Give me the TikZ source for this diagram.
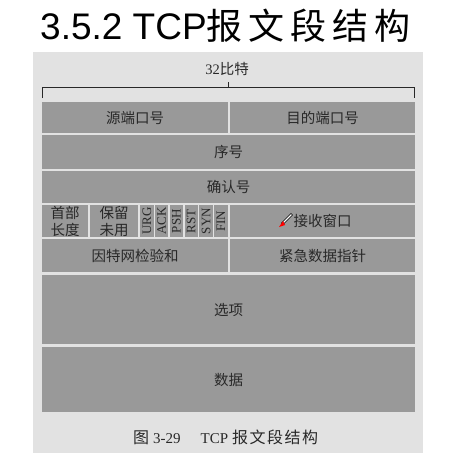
\documentclass[tikz,border=0pt]{standalone}
\usepackage{fontspec}
\setmainfont{Liberation Serif}
\newfontfamily\cjk{Noto Sans CJK SC}
\newfontfamily\titlefont{Liberation Sans}
\usetikzlibrary{positioning}
\definecolor{scanbg}{RGB}{226,226,226}
\definecolor{fieldgray}{RGB}{153,153,153}
\definecolor{inkgray}{RGB}{40,40,40}
\tikzset{
    field/.style={
        fill=fieldgray,
        inner sep=0pt,
        anchor=north west,
        text=inkgray,
        align=center,
        font=\cjk\fontsize{14.5}{17}\selectfont
    },
    % flag cells in the fourth row
    flagcell/.style={
        field,
        font=\fontsize{13}{13}\selectfont
    },
    bracket/.style={
        line width=0.8pt,
        inkgray
    }
}
\newcommand{\cgap}{\hspace{6pt}}

\begin{document}
\begin{tikzpicture}[x=1pt, y=-1pt]
	\useasboundingbox (0,0) rectangle (461,453);
	\fill[white] (0,0) rectangle (461,453);
	\fill[scanbg] (33,52) rectangle (423,453);

	\node [anchor=base west, inner sep=0pt] (title) at (40,39)
		{\titlefont\fontsize{37}{37}\selectfont 3.5.2 TCP{\cjk\fontsize{36}{36}\selectfont 报\cgap 文\cgap 段\cgap 结\cgap 构}};

	% 32 bit bracket
	\coordinate (bl) at (42,98);
	\coordinate (br) at (414,98);
	\coordinate (bm) at (228,82);
	\draw[bracket] (bl) -- ++(0,-11) -| (br);
	\draw[bracket] (bm) -- ++(0,5);
	\node [text=inkgray, font=\fontsize{14.5}{14.5}\selectfont] (bits) at (227,69) {32{\cjk 比特}};

	\node [field, minimum width=186, minimum height=31] (srcport) at (42,102) {源端口号};
	\node [field, minimum width=185, minimum height=31] (dstport) at (230,102) {目的端口号};

	\node [field, minimum width=373, minimum height=34] (seqno) at (42,135) {序号};
	\node [field, minimum width=373, minimum height=32] (ackno) at (42,171) {确认号};

	\node [field, minimum width=46, minimum height=32] (hdrlen) at (42,205) {首部\\长度};
	\node [field, minimum width=48, minimum height=32] (unused) at (90,205) {保留\\未用};
	\foreach \f [count=\i from 0] in {URG,ACK,PSH,RST,SYN,FIN}
		\node [flagcell, minimum width=13.3, minimum height=32] (\f) at (140+\i*14.8,205) {\rotatebox{90}{\f}};
	\node [field, minimum width=185, minimum height=32] (rwnd) at (230,205) {接收窗口};

	\node [field, minimum width=186, minimum height=33] (checksum) at (42,239) {因特网检验和};
	\node [field, minimum width=185, minimum height=33] (urgptr) at (230,239) {紧急数据指针};

	\node [field, minimum width=373, minimum height=69] (options) at (42,275) {选项};
	\node [field, minimum width=373, minimum height=65] (payload) at (42,347) {数据};

	% cursor
	\draw[line width=2.6pt, black] (282,224) -- (292,214);
	\draw[line width=1.4pt, white] (283,223) -- (291.5,214.5);
	\fill[red] (279,227) -- (283,221) -- (285,225) -- cycle;

	\node [anchor=base west, inner sep=0pt, text=inkgray, font=\fontsize{15}{15}\selectfont] (caption) at (133,443)
		{{\cjk\fontsize{16}{16}\selectfont 图}\hspace{4pt}3-29\hspace{20pt}TCP\hspace{4pt}{\cjk\fontsize{16}{16}\selectfont 报\hspace{1.5pt}文\hspace{1.5pt}段\hspace{1.5pt}结\hspace{1.5pt}构}};
\end{tikzpicture}
\end{document}
